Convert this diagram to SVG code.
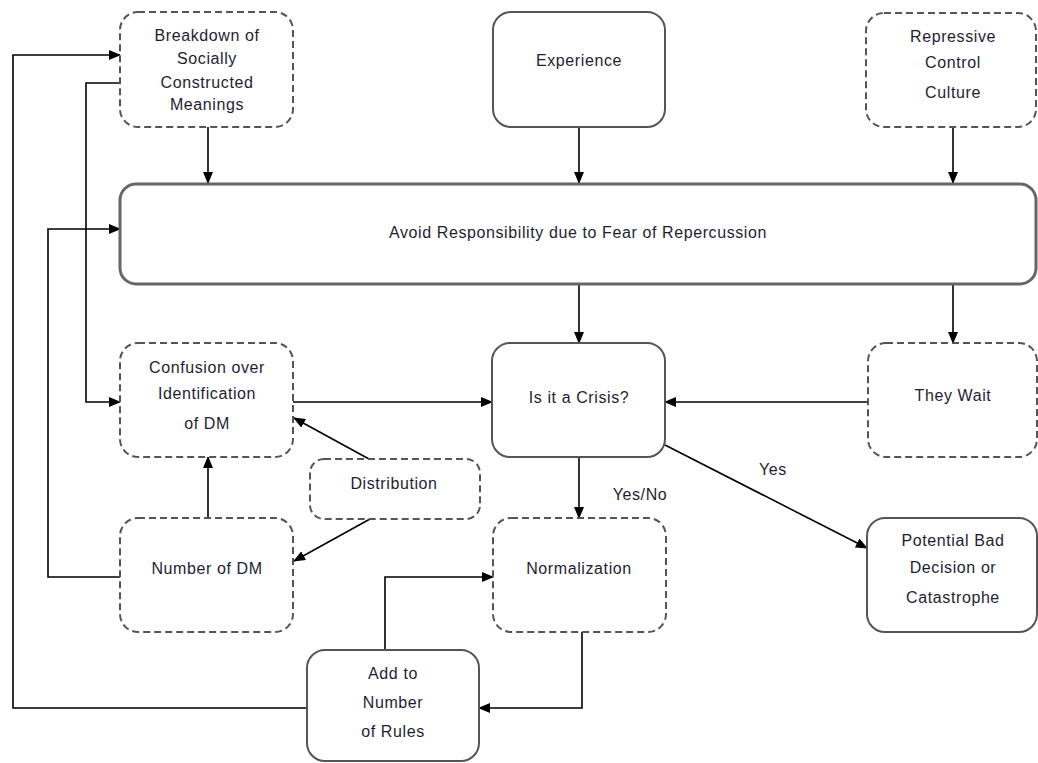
<svg xmlns="http://www.w3.org/2000/svg" width="1038" height="763" viewBox="0 0 1038 763">
<defs>
<marker id="ah" markerWidth="12" markerHeight="10" refX="11" refY="5" orient="auto" markerUnits="userSpaceOnUse">
<path d="M0,0 L12,5 L0,10 Z" fill="#000"/>
</marker>
<style>
.solid{fill:#fff;stroke:#555;stroke-width:2}
.dash{fill:#fff;stroke:#555;stroke-width:2;stroke-dasharray:7,4}
.big{fill:#fff;stroke:#666;stroke-width:3}
.t{font-family:"Liberation Sans",Arial,sans-serif;font-size:16px;letter-spacing:0.6px;fill:#1e1e32;text-anchor:middle}
.c{fill:none;stroke:#000;stroke-width:1.6}
.ca{fill:none;stroke:#000;stroke-width:1.6;marker-end:url(#ah)}
</style>
</defs>
<rect width="1038" height="763" fill="#fff"/>

<g id="connectors">
<path class="ca" d="M208,127 V183"/>
<path class="ca" d="M579,127 V183"/>
<path class="ca" d="M953,127 V183"/>
<path class="ca" d="M579,284 V343"/>
<path class="ca" d="M953,284 V343"/>
<path class="ca" d="M307,708 H13 V55 H120"/>
<path class="ca" d="M120,83 H86 V402 H120"/>
<path class="ca" d="M120,577 H48 V229 H120"/>
<path class="ca" d="M293,402 H492"/>
<path class="ca" d="M868,402 H665"/>
<path class="ca" d="M208,518 V457"/>
<path class="ca" d="M369,459 L294,418"/>
<path class="ca" d="M370,519 L294,561"/>
<path class="ca" d="M579,457 V518"/>
<path class="ca" d="M665,445 L867,548"/>
<path class="ca" d="M385,650 V577 H493"/>
<path class="ca" d="M582,632 V708 H479"/>
<text class="t" x="773" y="475">Yes</text>
<text class="t" x="640" y="500">Yes/No</text>
</g>

<g id="breakdown">
<rect class="dash" x="120" y="12" width="173" height="115" rx="18"/>
<text class="t" x="207" y="41">Breakdown of</text>
<text class="t" x="207" y="64">Socially</text>
<text class="t" x="207" y="88">Constructed</text>
<text class="t" x="207" y="110">Meanings</text>
</g>
<g id="experience">
<rect class="solid" x="493" y="12" width="172" height="115" rx="18"/>
<text class="t" x="579" y="66">Experience</text>
</g>
<g id="repressive">
<rect class="dash" x="866" y="13" width="170" height="114" rx="18"/>
<text class="t" x="953" y="42">Repressive</text>
<text class="t" x="953" y="68">Control</text>
<text class="t" x="953" y="98">Culture</text>
</g>
<g id="avoid">
<rect class="big" x="120" y="184" width="916" height="100" rx="16"/>
<text class="t" x="578" y="238">Avoid Responsibility due to Fear of Repercussion</text>
</g>
<g id="confusion">
<rect class="dash" x="120" y="343" width="173" height="114" rx="18"/>
<text class="t" x="207" y="373">Confusion over</text>
<text class="t" x="207" y="399">Identification</text>
<text class="t" x="207" y="429">of DM</text>
</g>
<g id="crisis">
<rect class="solid" x="492" y="343" width="173" height="114" rx="18"/>
<text class="t" x="579" y="403">Is it a Crisis?</text>
</g>
<g id="wait">
<rect class="dash" x="868" y="343" width="169" height="114" rx="18"/>
<text class="t" x="953" y="401">They Wait</text>
</g>
<g id="distribution">
<rect class="dash" x="310" y="459" width="170" height="60" rx="14"/>
<text class="t" x="394" y="489">Distribution</text>
</g>
<g id="number">
<rect class="dash" x="120" y="518" width="173" height="114" rx="18"/>
<text class="t" x="207" y="574">Number of DM</text>
</g>
<g id="normalization">
<rect class="dash" x="493" y="518" width="173" height="114" rx="18"/>
<text class="t" x="579" y="574">Normalization</text>
</g>
<g id="potential">
<rect class="solid" x="867" y="518" width="170" height="114" rx="18"/>
<text class="t" x="953" y="546">Potential Bad</text>
<text class="t" x="953" y="573">Decision or</text>
<text class="t" x="953" y="603">Catastrophe</text>
</g>
<g id="addrules">
<rect class="solid" x="307" y="650" width="172" height="111" rx="18"/>
<text class="t" x="393" y="679">Add to</text>
<text class="t" x="393" y="708">Number</text>
<text class="t" x="393" y="737">of Rules</text>
</g>
</svg>
